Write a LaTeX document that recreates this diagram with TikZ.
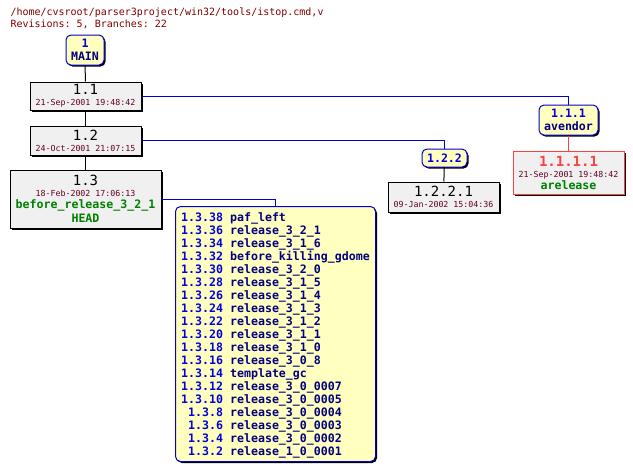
\documentclass[tikz,border=0pt]{standalone}
\usepackage{fontspec}
\setmonofont{DejaVu Sans Mono}
\usepackage{xcolor}
\usetikzlibrary{shadows}
\definecolor{revbg}{RGB}{240,240,240}
\definecolor{tagbg}{RGB}{255,255,192}
\definecolor{datecol}{RGB}{100,0,32}
\definecolor{titlecol}{RGB}{128,0,0}
\definecolor{tagnum}{RGB}{0,0,224}
\definecolor{tagname}{RGB}{0,0,128}
\definecolor{taggreen}{RGB}{0,128,0}
\definecolor{revred}{RGB}{255,64,64}
\newcommand{\dt}[1]{{\fontsize{8.3}{9}\selectfont\color{datecol}#1}}
\newcommand{\bn}[1]{{\bfseries\color{tagnum}#1}}
\newcommand{\tg}[1]{{\bfseries\fontsize{11.6}{13}\selectfont\color{taggreen}#1}}

\begin{document}
\begin{tikzpicture}[
  x=1pt, y=-1pt, line width=1pt,
  font=\ttfamily,
  boxshadow/.style={drop shadow={shadow xshift=1.5pt, shadow yshift=-1.5pt, opacity=1, fill=black}},
  rev/.style={draw, fill=revbg, boxshadow, align=center, inner sep=0pt,
              font=\ttfamily\fontsize{14}{13}\selectfont},
  tag/.style={draw=blue!80!black, fill=tagbg, rounded corners=5pt, boxshadow,
              align=center, inner sep=0pt, font=\ttfamily\bfseries\fontsize{11.6}{13}\selectfont},
  blist/.style={tag, align=left, anchor=north west,
                text=tagname},
  trunk/.style={draw=black},
  branch/.style={draw=blue!85!black}
]
\useasboundingbox (0,0) rectangle (633,469);
\node[anchor=north west, text=titlecol, inner sep=0pt, font=\ttfamily\fontsize{10}{12}\selectfont, align=left]
  (title) at (10,7) {/home/cvsroot/parser3project/win32/tools/istop.cmd,v\\Revisions: 5, Branches: 22};

% trunk
\node[tag, minimum width=38pt, minimum height=30pt] (main) at (85,50)
  {\color{tagnum}1\\\color{tagname}MAIN};
\node[rev, minimum width=111pt, minimum height=28pt] (r11) at (85.5,96)
  {1.1\\[-2pt]\dt{21-Sep-2001 19:48:42}};
\node[rev, minimum width=111pt, minimum height=29pt] (r12) at (85.5,140.5)
  {1.2\\[-2pt]\dt{24-Oct-2001 21:07:15}};
\node[rev, minimum width=151pt, minimum height=58pt] (r13) at (85.5,199)
  {1.3\\[-2pt]\dt{18-Feb-2002 17:06:13}\\[-1pt]
   \tg{before\_release\_3\_2\_1}\\[1pt]\tg{HEAD}};

% branches
\node[tag, minimum width=59pt, minimum height=30pt] (b111) at (568.5,120)
  {\color{tagnum}1.1.1\\\color{tagname}avendor};
\node[rev, draw=revred, minimum width=111pt, minimum height=43pt] (r1111) at (568.5,172.5)
  {\bfseries\color{revred}1.1.1.1\\[-2pt]\dt{21-Sep-2001 19:48:42}\\[-1pt]
   \tg{arelease}};
\node[tag, minimum width=45pt, minimum height=18pt] (b122) at (444.5,158)
  {\color{tagnum}1.2.2};
\node[rev, minimum width=111pt, minimum height=30pt] (r1221) at (443.5,197)
  {1.2.2.1\\[-2pt]\dt{09-Jan-2002 15:04:36}};
\node[blist, minimum width=200pt, inner xsep=5pt, inner ysep=3pt] (b13) at (175,206)
  {\rule{0pt}{12pt}\bn{1.3.38} paf\_left\\
   \bn{1.3.36} release\_3\_2\_1\\
   \bn{1.3.34} release\_3\_1\_6\\
   \bn{1.3.32} before\_killing\_gdome\\
   \bn{1.3.30} release\_3\_2\_0\\
   \bn{1.3.28} release\_3\_1\_5\\
   \bn{1.3.26} release\_3\_1\_4\\
   \bn{1.3.24} release\_3\_1\_3\\
   \bn{1.3.22} release\_3\_1\_2\\
   \bn{1.3.20} release\_3\_1\_1\\
   \bn{1.3.18} release\_3\_1\_0\\
   \bn{1.3.16} release\_3\_0\_8\\
   \bn{1.3.14} template\_gc\\
   \bn{1.3.12} release\_3\_0\_0007\\
   \bn{1.3.10} release\_3\_0\_0005\\
   \phantom{1}\bn{1.3.8} release\_3\_0\_0004\\
   \phantom{1}\bn{1.3.6} release\_3\_0\_0003\\
   \phantom{1}\bn{1.3.4} release\_3\_0\_0002\\
   \rule[-3pt]{0pt}{3pt}\phantom{1}\bn{1.3.2} release\_1\_0\_0001};

\draw[trunk] (main) -- (r11);
\draw[trunk] (r11) -- (r12);
\draw[trunk] (r12) -- (r13);
\draw[branch] (r11.east) -| (b111.north);
\draw[branch] (r12.east) -| (b122.north);
\draw[branch] (r13.east) -| (b13.north);
\draw[draw=revred] (b111) -- (r1111);
\draw[trunk] (b122) -- (r1221);
\end{tikzpicture}
\end{document}
